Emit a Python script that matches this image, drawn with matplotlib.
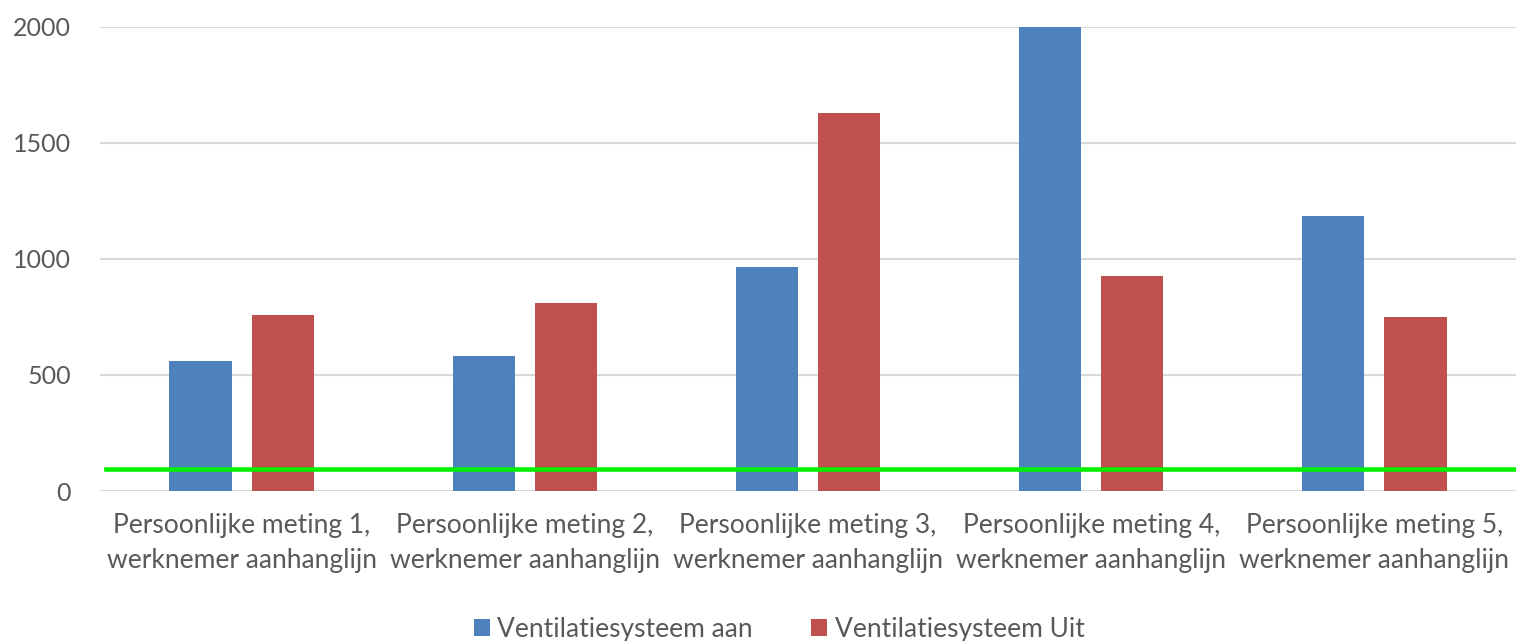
import numpy as np
import matplotlib.pyplot as plt

categories = ["Persoonlijke meting 1,\nwerknemer aanhanglijn",
              "Persoonlijke meting 2,\nwerknemer aanhanglijn",
              "Persoonlijke meting 3,\nwerknemer aanhanglijn",
              "Persoonlijke meting 4,\nwerknemer aanhanglijn",
              "Persoonlijke meting 5,\nwerknemer aanhanglijn"]
aan = [562, 582, 967, 2000, 1184]
uit = [758, 810, 1629, 925, 750]
grens = 95

plt.rcParams['font.family'] = ['Lato', 'DejaVu Sans']

fig = plt.figure(figsize=(15.16, 6.41), dpi=100)
ax = fig.add_axes([0.066, 0.234, 0.934, 0.724])

x = np.arange(len(categories))
w = 0.22
ax.bar(x - 0.145, aan, w, color="#4F81BD", label="Ventilatiesysteem aan", zorder=2)
ax.bar(x + 0.145, uit, w, color="#C0504D", label="Ventilatiesysteem Uit", zorder=2)
ax.axhline(grens, xmin=0.004, xmax=1, color="#00F000", lw=3.3, zorder=3)

ax.set_xlim(-0.5, 4.5)
ax.set_ylim(0, 2000)
ax.set_yticks([0, 500, 1000, 1500, 2000])
ax.yaxis.grid(True, color="#D9D9D9", lw=1.5, zorder=0)
ax.set_xticks(x)
ax.set_xticklabels(categories, fontsize=19, color="#595959", linespacing=1.5)
ax.tick_params(axis="y", labelsize=18, labelcolor="#595959", length=0, pad=21)
ax.tick_params(axis="x", length=0, pad=16)
for s in ax.spines.values():
    s.set_visible(False)

fig.legend(loc="lower center", bbox_to_anchor=(0.514, -0.038), ncol=2, frameon=False,
           fontsize=19, labelcolor="#595959", handlelength=0.6, handleheight=0.6,
           handletextpad=0.3, columnspacing=2.2)

fig.savefig("out.png", dpi=100)
